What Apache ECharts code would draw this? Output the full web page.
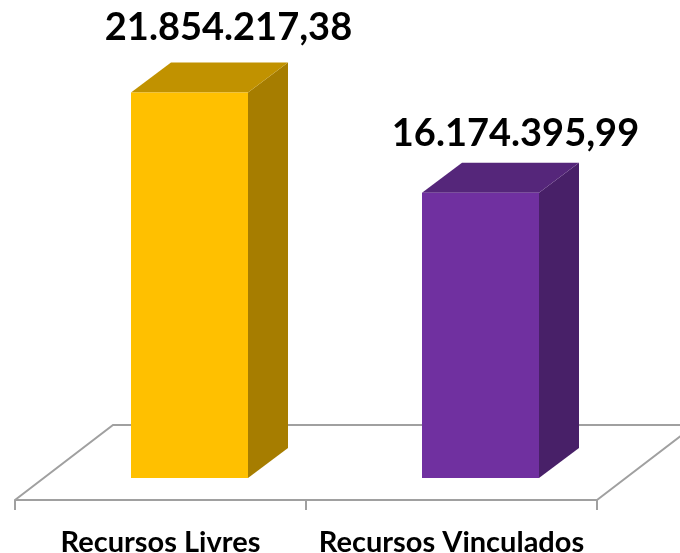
<!DOCTYPE html>
<html>
<head>
<meta charset="utf-8">
<style>
  html, body { margin: 0; padding: 0; background: #fff; }
  #chart { width: 680px; height: 553px; }
</style>
</head>
<body>
<div id="chart"></div>
<script src="https://cdn.jsdelivr.net/npm/echarts@6/dist/echarts.min.js"></script>
<script>
const categories = ["Recursos Livres", "Recursos Vinculados"];
const values = [21854217.38, 16174395.99];
const valueLabels = ["21.854.217,38", "16.174.395,99"];

// front, side, top
const barColors = [
  ["#FFC000", "#A67D00", "#C19200"],
  ["#7030A0", "#482068", "#55267A"],
];
const labelShift = [[39, -65], [35, -59]];

const barWidth = 117;
const barShift = 29; // bars sit in the middle of the floor, not on the front edge
const depth = [40, -30];
const floorDepth = [98, -75];
const axisGap = 22; // axis line is below the value zero
const lineColor = "#A0A0A0";

const chart = echarts.init(document.getElementById("chart"));

function renderFloor(params, api) {
  const grid = params.coordSys;
  const y = grid.y + grid.height + axisGap;
  const x0 = grid.x;
  const x1 = grid.x + grid.width;
  const style = { stroke: lineColor, lineWidth: 2, fill: null };
  return {
    type: "polyline",
    shape: {
      points: [
        [x0, y],
        [x0 + floorDepth[0], y + floorDepth[1]],
        [x1 + floorDepth[0], y + floorDepth[1]],
        [x1, y],
      ],
    },
    style: style,
  };
}

function renderBar(params, api) {
  const i = params.dataIndex;
  const top = api.coord([i, api.value(1)]);
  const base = api.coord([i, 0]);
  const left = top[0] + barShift - barWidth / 2;
  const right = left + barWidth;
  const dx = depth[0];
  const dy = depth[1];
  const colors = barColors[i];
  return {
    type: "group",
    children: [
      {
        type: "polygon",
        shape: { points: [[right, top[1]], [right + dx, top[1] + dy], [right + dx, base[1] + dy], [right, base[1]]] },
        style: { fill: colors[1] },
      },
      {
        type: "polygon",
        shape: { points: [[left, top[1]], [left + dx, top[1] + dy], [right + dx, top[1] + dy], [right, top[1]]] },
        style: { fill: colors[2] },
      },
      {
        type: "rect",
        shape: { x: left, y: top[1], width: barWidth, height: base[1] - top[1] },
        style: { fill: colors[0] },
      },
      {
        type: "text",
        x: top[0] + barShift + labelShift[i][0],
        y: top[1] + labelShift[i][1],
        style: {
          text: valueLabels[i],
          fill: "#000",
          font: "bold 38px Lato",
          align: "center",
          verticalAlign: "middle",
        },
      },
    ],
  };
}

chart.setOption({
  animation: false,
  grid: { left: 15, width: 582, top: 37, height: 441, outerBoundsMode: "none" },
  xAxis: {
    type: "category",
    data: categories,
    offset: axisGap,
    axisLine: { show: true, onZero: false, lineStyle: { color: lineColor, width: 2 } },
    axisTick: { show: true, length: 10, lineStyle: { color: lineColor, width: 2 } },
    axisLabel: {
      interval: 0,
      color: "#000",
      fontFamily: "Lato",
      fontWeight: "bold",
      fontSize: 29,
      margin: 28,
    },
  },
  yAxis: { type: "value", min: 0, max: 25000000, show: false },
  series: [
    {
      type: "custom",
      renderItem: renderFloor,
      data: [[0, 0]],
      z: 1,
      silent: true,
    },
    {
      type: "custom",
      renderItem: renderBar,
      data: values.map((v, i) => [i, v]),
      encode: { x: 0, y: 1 },
      z: 2,
    },
  ],
});
</script>
</body>
</html>
